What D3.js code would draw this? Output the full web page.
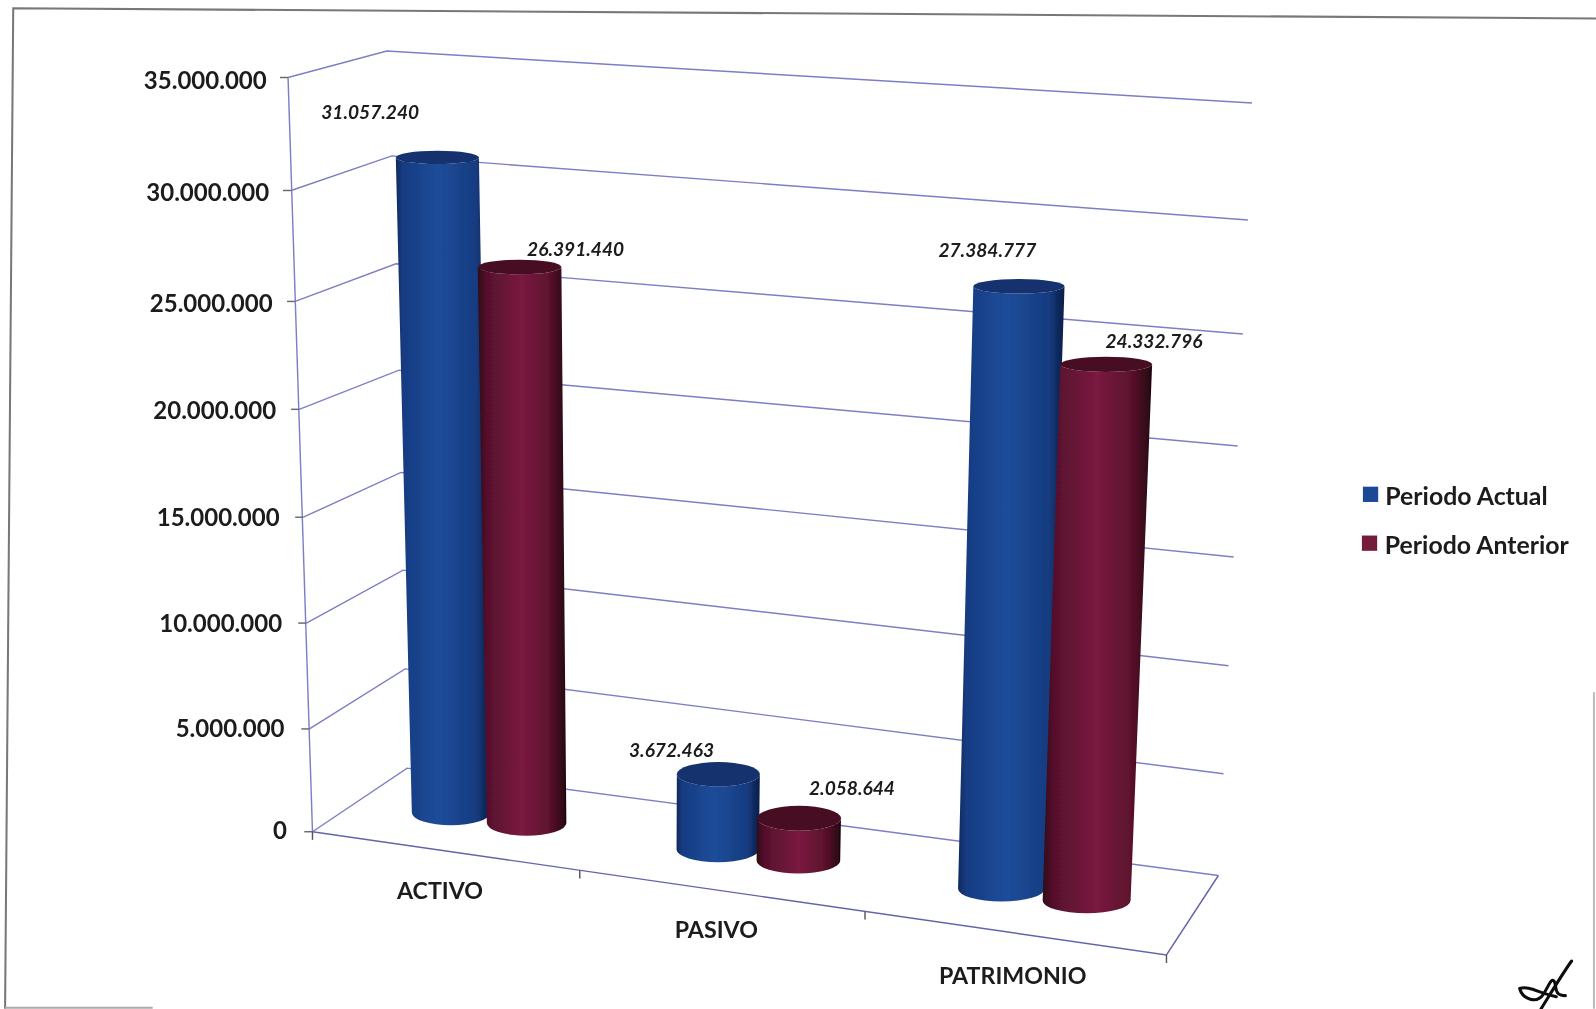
<!DOCTYPE html>
<html><head><meta charset="utf-8">
<style>html,body{margin:0;padding:0;background:#fff;overflow:hidden}svg{display:block}text{font-family:Lato,"Open Sans",sans-serif;fill:#1a1a1a}</style>
<script src="https://cdn.jsdelivr.net/npm/d3@7"></script>
</head><body><div id="chart"></div>
<script>
// ---- data ----
const categories = ["ACTIVO", "PASIVO", "PATRIMONIO"];
const seriesNames = ["Periodo Actual", "Periodo Anterior"];
const periodoActual = [31057240, 3672463, 27384777];
const periodoAnterior = [26391440, 2058644, 24332796];
const axisTicks = [0, 5000000, 10000000, 15000000, 20000000, 25000000, 30000000, 35000000];

// ---- box geometry (3D frame as drawn in the picture) ----
const frontX = [307, 304, 301, 298, 294, 290, 286, 283];
const frontY = [817, 716, 612, 508, 402, 296, 187, 76];
const backX  = [400, 398, 396, 394, 392, 389, 385, 380];
const backY  = [754.5, 657, 560, 464, 363.5, 259, 153, 50];
const rightX = [1197, 1202, 1207, 1212, 1216, 1221, 1226, 1230];
const rightY = [860, 760, 654, 547, 438, 328, 216, 101];
const nearCorner = {x: 1146, y: 938};
const floorStops = [0, 0.313, 0.647, 1];

const sc = r => d3.scaleLinear().domain(axisTicks).range(r);
const fx = sc(frontX), fy = sc(frontY), bx = sc(backX), by = sc(backY), rx = sc(rightX), ry = sc(rightY);
const F = v => ({x: fx(v), y: fy(v)});
const B = v => ({x: bx(v), y: by(v)});
const R = v => ({x: rx(v), y: ry(v)});
const G = v => ({x: nearCorner.x + (rx(v) - rightX[0]) * 1.055, y: nearCorner.y + (ry(v) - rightY[0]) * 1.055});
const lerp = (a, b, t) => ({x: a.x + (b.x - a.x) * t, y: a.y + (b.y - a.y) * t});
const project = (u, d, v) => lerp(lerp(F(v), B(v), d), lerp(G(v), R(v), d), u);
const catU = d3.scaleLinear().domain([0, 1, 2, 3]).range(floorStops);

const seriesPos = [0.35, 0.64];
const depth = 0.5, radU = 0.05, radD = 0.2;
const labelOffsets = [[[-66, -45], [-46, -24], [-31, -36]], [[55, -18], [52, -30], [47, -23]]];
const catOffsets = [[-6, 38], [-6, 37], [-3, 41]];
const tickLabelX = d3.scaleLinear().domain([0, 35000000]).range([-25, -21]);
const tickLabelY = d3.scaleLinear().domain([0, 35000000]).range([-2, 2]);

const svg = d3.select("#chart").append("svg").attr("width", 1596).attr("height", 1009).attr("viewBox", "0 0 1568 991");
const defs = svg.append("defs");
const grad = (id, stops) => {
  const g = defs.append("linearGradient").attr("id", id);
  stops.forEach(s => g.append("stop").attr("offset", s[0]).attr("stop-color", s[1]));
};
grad("gBlue", [[0, "#0f2a60"], [0.08, "#163c82"], [0.45, "#1e4c9a"], [0.85, "#163c80"], [1, "#0a1c46"]]);
grad("gRed", [[0, "#2e0816"], [0.1, "#56102c"], [0.5, "#7a1a41"], [0.82, "#5a112b"], [1, "#22050f"]]);
const capColor = ["#12326e", "#470e21"];
const legendColor = ["#1c4a96", "#741a3e"];
const fillId = ["url(#gBlue)", "url(#gRed)"];
defs.append("filter").attr("id", "scan").attr("x", 0).attr("y", 0).attr("width", 1).attr("height", 1)
  .attr("filterUnits", "objectBoundingBox")
  .append("feGaussianBlur").attr("stdDeviation", 0.65);

const root = svg.append("g").attr("filter", "url(#scan)");
root.append("rect").attr("width", 1568).attr("height", 991).attr("fill", "#fff");

// frame
const frameColor = "#77777c";
const frame = root.append("g").attr("fill", "none").attr("stroke", frameColor).attr("stroke-width", 2);
frame.append("path").attr("d", d3.line()([[5, 991], [13, 8], [1568, 18]]));
frame.append("path").attr("d", d3.line()([[5, 990], [150, 990]])).attr("stroke", "#aaa");
frame.append("path").attr("d", d3.line()([[1566, 680], [1566, 991]])).attr("stroke", "#bbb");

// walls and floor
const gridColor = "#7d7ec4";
const line = d3.line().x(d => d.x).y(d => d.y);
const grid = root.append("g").attr("fill", "none").attr("stroke", gridColor).attr("stroke-width", 1.4);
grid.selectAll("path.g").data(axisTicks).join("path").attr("class", "g")
  .attr("d", v => line([F(v), B(v), R(v)]));
grid.append("path").attr("d", line([F(0), F(35000000)]));
grid.append("path").attr("d", line([F(0), G(0), R(0)])).attr("stroke", "#6364ac");
grid.selectAll("path.t").data(axisTicks).join("path").attr("class", "t")
  .attr("d", v => line([{x: F(v).x - 8, y: F(v).y}, F(v)])).attr("stroke", "#666");
grid.selectAll("path.c").data(floorStops).join("path").attr("class", "c")
  .attr("d", u => { const p = lerp(F(0), G(0), u); return line([p, {x: p.x, y: p.y + 8}]); }).attr("stroke", "#555");

// axis labels
const fmt = v => String(v).replace(/\B(?=(\d{3})+(?!\d))/g, ".");
root.append("g").selectAll("text").data(axisTicks).join("text")
  .attr("x", v => F(v).x + tickLabelX(v)).attr("y", v => F(v).y + tickLabelY(v))
  .attr("text-anchor", "end").attr("dominant-baseline", "central")
  .attr("font-size", 23.6).attr("font-weight", 700).text(fmt);

root.append("g").selectAll("text").data(categories).join("text")
  .attr("x", (d, i) => lerp(F(0), G(0), catU(i + 0.5)).x + catOffsets[i][0])
  .attr("y", (d, i) => lerp(F(0), G(0), catU(i + 0.5)).y + catOffsets[i][1])
  .attr("text-anchor", "middle").attr("dominant-baseline", "central")
  .attr("font-size", 22.8).attr("font-weight", 700).text(d => d);

// cylinders
const cyl = root.append("g");
const labels = root.append("g");
[periodoActual, periodoAnterior].forEach((vals, s) => {
  vals.forEach((val, c) => {
    const u = catU(c + seriesPos[s]);
    const base = project(u, depth, 0), top = project(u, depth, val);
    const persp = 1 + (u - 0.5) * 0.15;
    const widthAt = v => (lerp(G(v), R(v), depth).x - lerp(F(v), B(v), depth).x) * radU * persp;
    const depthAt = v => Math.abs(fy(v) - by(v)) * radD;
    const rb = widthAt(0), rt = widthAt(val), hb = depthAt(0), ht = depthAt(val);
    const body = `M${top.x - rt},${top.y}L${base.x - rb},${base.y}A${rb},${hb} 0 0 0 ${base.x + rb},${base.y}L${top.x + rt},${top.y}A${rt},${ht} 0 0 1 ${top.x - rt},${top.y}Z`;
    cyl.append("path").attr("d", body).attr("fill", fillId[s]);
    cyl.append("ellipse").attr("cx", top.x).attr("cy", top.y).attr("rx", rt).attr("ry", ht).attr("fill", capColor[s]);
    const o = labelOffsets[s][c];
    labels.append("text").attr("x", top.x + o[0]).attr("y", top.y + o[1])
      .attr("text-anchor", "middle").attr("dominant-baseline", "central")
      .attr("font-size", 18.8).attr("font-weight", 700).attr("font-style", "italic").text(fmt(val));
  });
});

// legend
const legendY = d3.scalePoint().domain(seriesNames).range([486, 534]);
const lg = root.append("g").selectAll("g").data(seriesNames).join("g");
lg.append("rect").attr("x", (d, i) => 1339 - i).attr("y", d => legendY(d) - 8).attr("width", 15).attr("height", 15)
  .attr("fill", (d, i) => legendColor[i]);
lg.append("text").attr("x", (d, i) => 1361 - i * 0.5).attr("y", d => legendY(d)).attr("dominant-baseline", "central")
  .attr("font-size", 24.4).attr("font-weight", 700).text(d => d);

// signature
root.append("path").attr("fill", "none").attr("stroke", "#111").attr("stroke-width", 3).attr("stroke-linecap", "round")
  .attr("d", "M1544,944C1534,958 1524,975 1514,991M1493,971C1503,968 1512,976 1529,979M1493,971C1496,982 1510,986 1516,977C1522,968 1524,960 1527,964C1530,970 1526,978 1538,978");
</script></body></html>
